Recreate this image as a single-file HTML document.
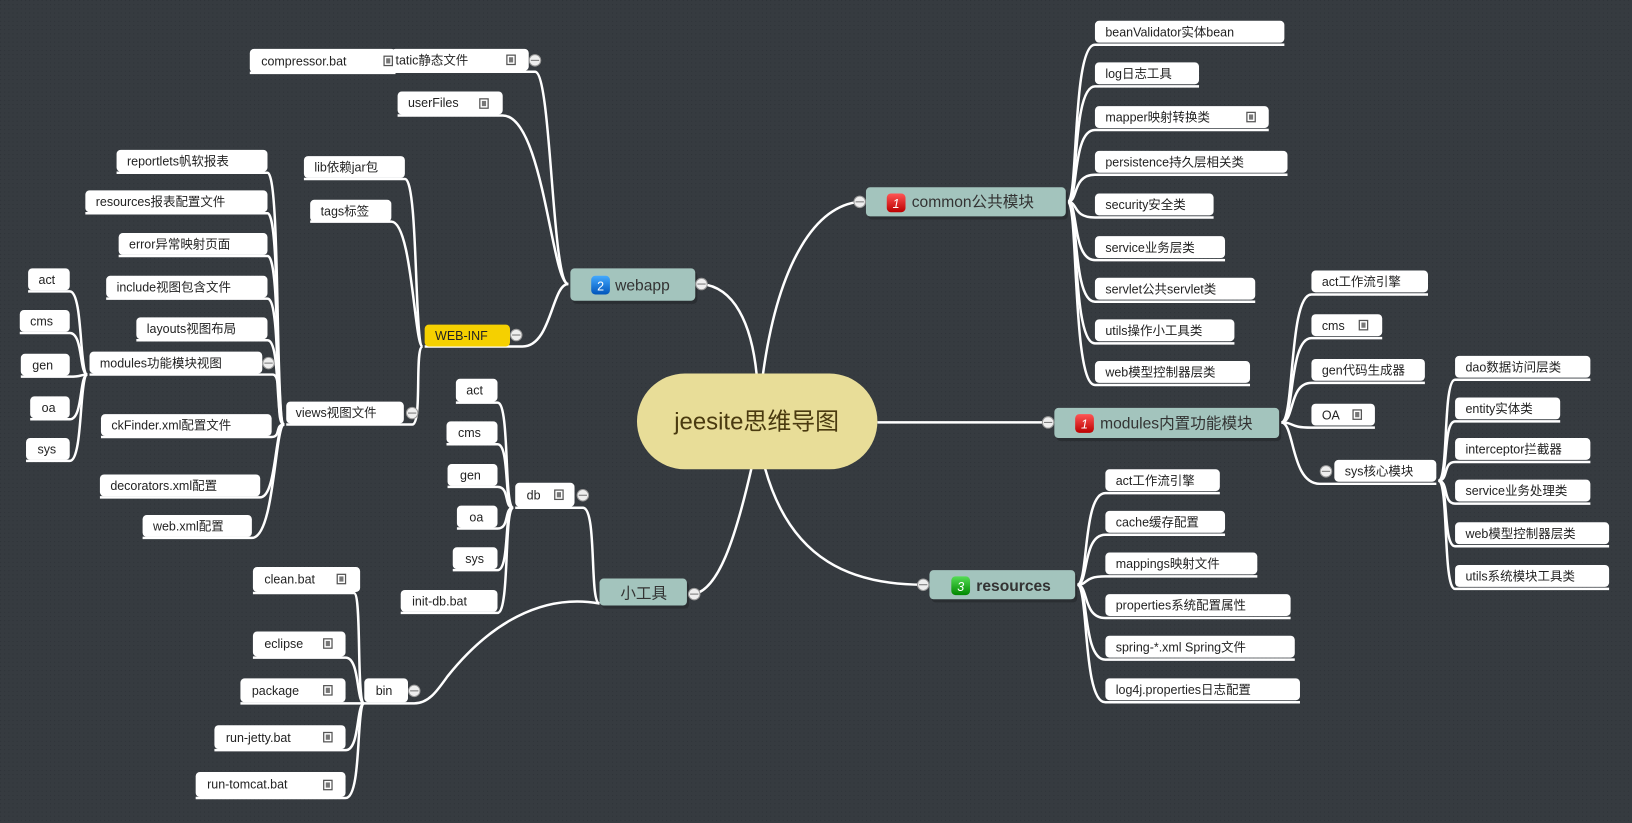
<!DOCTYPE html>
<html><head><meta charset="utf-8"><style>
html,body{margin:0;padding:0;background:#363b40;overflow:hidden}
svg{display:block}
.l{stroke:#fff;stroke-width:2.4;fill:none}
.n{fill:#fff}
.t{font-family:"Liberation Sans","Noto Sans CJK SC",sans-serif;font-size:12px;fill:#222}
.m{fill:#a3c4bd}
.mt{font-family:"Liberation Sans","Noto Sans CJK SC",sans-serif;font-size:15px;fill:#333}
.ic{fill:#fff;stroke:#555;stroke-width:1.2}
.ici{fill:#777}
.cc{fill:#eee;stroke:#999;stroke-width:1}
</style></head><body>
<svg width="1632" height="823" viewBox="0 0 1568 791" preserveAspectRatio="none" xmlns="http://www.w3.org/2000/svg">
<defs>
<pattern id="dots" width="4" height="4" patternUnits="userSpaceOnUse"><rect width="4" height="4" fill="#363b40"/><rect width="1" height="1" fill="#2e3338"/></pattern>
<linearGradient id="red" x1="0" y1="0" x2="0" y2="1"><stop offset="0" stop-color="#f55"/><stop offset="1" stop-color="#b00"/></linearGradient>
<linearGradient id="blue" x1="0" y1="0" x2="0" y2="1"><stop offset="0" stop-color="#4af"/><stop offset="1" stop-color="#05b"/></linearGradient>
<linearGradient id="green" x1="0" y1="0" x2="0" y2="1"><stop offset="0" stop-color="#5d5"/><stop offset="1" stop-color="#080"/></linearGradient>
</defs>
<rect width="1568" height="791" fill="url(#dots)"/>

<!-- main connectors -->
<path class="l" d="M727 360 C722 310 705 276 674 273"/>
<path class="l" d="M733 360 C748 250 785 197 826 194"/>
<path class="l" d="M843 406 L1007 406"/>
<path class="l" d="M735 450 C760 540 820 562 887 562"/>
<path class="l" d="M722 450 C706 520 690 566 667 571"/>

<!-- common children -->
<g class="l">
<path d="M1026 194 C1036 194 1030 43 1052 43 L1234 43"/>
<path d="M1026 194 C1036 194 1030 83 1052 83 L1152 83"/>
<path d="M1026 194 C1036 194 1030 125 1052 125 L1219 125"/>
<path d="M1026 194 C1036 194 1030 168 1052 168 L1237 168"/>
<path d="M1026 194 C1036 194 1030 209 1052 209 L1166 209"/>
<path d="M1026 194 C1036 194 1030 250 1052 250 L1177 250"/>
<path d="M1026 194 C1036 194 1030 290 1052 290 L1206 290"/>
<path d="M1026 194 C1036 194 1030 330 1052 330 L1186 330"/>
<path d="M1026 194 C1036 194 1030 370 1052 370 L1201 370"/>
<!-- modules children -->
<path d="M1231 406 C1244 406 1238 283 1260 283 L1372 283"/>
<path d="M1231 406 C1244 406 1238 325 1260 325 L1328 325"/>
<path d="M1231 406 C1244 406 1238 368 1260 368 L1369 368"/>
<path d="M1231 406 C1244 406 1238 411 1260 411 L1321 411"/>
<path d="M1231 406 C1244 406 1240 465 1268 465 L1380 465"/>
<!-- sys children -->
<path d="M1382 462 C1392 462 1386 365 1398 365 L1528 365"/>
<path d="M1382 462 C1392 462 1386 405 1398 405 L1499 405"/>
<path d="M1382 462 C1392 462 1386 444 1398 444 L1528 444"/>
<path d="M1382 462 C1392 462 1386 484 1398 484 L1528 484"/>
<path d="M1382 462 C1392 462 1386 525 1398 525 L1546 525"/>
<path d="M1382 462 C1392 462 1386 566 1398 566 L1546 566"/>
<!-- resources children -->
<path d="M1035 562 C1046 562 1040 474 1062 474 L1172 474"/>
<path d="M1035 562 C1046 562 1040 514 1062 514 L1177 514"/>
<path d="M1035 562 C1046 562 1040 554 1062 554 L1208 554"/>
<path d="M1035 562 C1046 562 1040 594 1062 594 L1240 594"/>
<path d="M1035 562 C1046 562 1040 634 1062 634 L1244 634"/>
<path d="M1035 562 C1046 562 1040 675 1062 675 L1249 675"/>
<!-- webapp children -->
<path d="M546 273 C530 273 530 69 514 69 L376 69"/>
<path d="M546 273 C530 273 522 111 483 111 L382 111"/>
<path d="M546 273 C530 273 530 333 502 333 L408 333"/>
<path d="M380 70 L240 70"/>
<!-- WEB-INF children -->
<path d="M406 333 C398 333 402 172 389 172 L292 172"/>
<path d="M406 333 C398 333 396 213 376 213 L298 213"/>
<path d="M406 333 C398 333 406 408 396 408 L275 408"/>
<!-- views children -->
<path d="M273 408 C264 408 270 166 257 166 L112 166"/>
<path d="M273 408 C264 408 270 205 257 205 L82 205"/>
<path d="M273 408 C264 408 270 246 257 246 L114 246"/>
<path d="M273 408 C264 408 270 287 257 287 L102 287"/>
<path d="M273 408 C264 408 270 327 257 327 L131 327"/>
<path d="M273 408 C264 408 272 360 262 360 L86 360"/>
<path d="M273 408 C264 408 270 420 261 420 L97 420"/>
<path d="M273 408 C264 408 266 478 250 478 L96 478"/>
<path d="M273 408 C264 408 264 517 242 517 L137 517"/>
<!-- modules(views) children -->
<path d="M84 360 C76 360 80 280 67 280 L27 280"/>
<path d="M84 360 C76 360 80 320 67 320 L19 320"/>
<path d="M84 360 C76 360 80 362 67 362 L20 362"/>
<path d="M84 360 C76 360 80 403 67 403 L29 403"/>
<path d="M84 360 C76 360 80 443 67 443 L25 443"/>
<!-- 小工具 children -->
<path d="M576 580 C566 580 574 488 560 488 L495 488"/>
<path d="M576 580 C520 570 470 600 430 650 C420 664 412 676 398 676 L350 676"/>
<!-- db children -->
<path d="M493 488 C484 488 490 387 478 387 L438 387"/>
<path d="M493 488 C484 488 490 427 478 427 L429 427"/>
<path d="M493 488 C484 488 490 468 478 468 L430 468"/>
<path d="M493 488 C484 488 490 508 478 508 L439 508"/>
<path d="M493 488 C484 488 490 548 478 548 L435 548"/>
<path d="M493 488 C484 488 490 589 478 589 L385 589"/>
<!-- bin children -->
<path d="M350 676 C342 676 348 570 340 570 L243 570"/>
<path d="M350 676 C342 676 346 632 332 632 L243 632"/>
<path d="M350 676 L231 676"/>
<path d="M350 676 C342 676 346 721 332 721 L206 721"/>
<path d="M350 676 C342 676 348 767 332 767 L188 767"/>
</g>

<!-- center -->
<rect x="612" y="359" width="231" height="92" rx="46" fill="#e8dd98"/>
<text x="727" y="413" text-anchor="middle" font-family="Liberation Sans,Noto Sans CJK SC,sans-serif" font-size="23" fill="#4a3a10">jeesite思维导图</text>

<!-- main nodes -->
<rect x="834" y="183" width="192" height="28" rx="4" fill="#2a2e32"/>
<rect class="m" x="832" y="180" width="192" height="28" rx="4"/>
<rect x="852" y="186" width="18" height="18" rx="4" fill="url(#red)"/><text x="861" y="200" text-anchor="middle" font-family="Liberation Sans,sans-serif" font-size="12" font-style="italic" fill="#fff">1</text>
<text class="mt" x="876" y="199">common公共模块</text>

<rect x="1015" y="395" width="216" height="29" rx="4" fill="#2a2e32"/>
<rect class="m" x="1013" y="392" width="216" height="29" rx="4"/>
<rect x="1033" y="398" width="18" height="18" rx="4" fill="url(#red)"/><text x="1042" y="412" text-anchor="middle" font-family="Liberation Sans,sans-serif" font-size="12" font-style="italic" fill="#fff">1</text>
<text class="mt" x="1057" y="412">modules内置功能模块</text>

<rect x="895" y="551" width="140" height="28" rx="4" fill="#2a2e32"/>
<rect class="m" x="893" y="548" width="140" height="28" rx="4"/>
<rect x="914" y="554" width="18" height="18" rx="4" fill="url(#green)"/><text x="923" y="568" text-anchor="middle" font-family="Liberation Sans,sans-serif" font-size="12" font-style="italic" fill="#fff">3</text>
<text class="mt" x="938" y="568" font-weight="bold">resources</text>

<rect x="550" y="261" width="120" height="31" rx="4" fill="#2a2e32"/>
<rect class="m" x="548" y="258" width="120" height="31" rx="4"/>
<rect x="568" y="265" width="18" height="18" rx="4" fill="url(#blue)"/><text x="577" y="279" text-anchor="middle" font-family="Liberation Sans,sans-serif" font-size="12" fill="#fff">2</text>
<text class="mt" x="591" y="279">webapp</text>

<rect x="578" y="559" width="84" height="26" rx="4" fill="#2a2e32"/>
<rect class="m" x="576" y="556" width="84" height="26" rx="4"/>
<text class="mt" x="596" y="575">小工具</text>

<!-- common child nodes -->
<g>
<rect class="n" x="1052" y="20" width="182" height="21" rx="4"/><text class="t" x="1062" y="35">beanValidator实体bean</text>
<rect class="n" x="1052" y="60" width="100" height="21" rx="4"/><text class="t" x="1062" y="75">log日志工具</text>
<rect class="n" x="1052" y="102" width="167" height="21" rx="4"/><text class="t" x="1062" y="117">mapper映射转换类</text>
<rect class="n" x="1052" y="145" width="185" height="21" rx="4"/><text class="t" x="1062" y="160">persistence持久层相关类</text>
<rect class="n" x="1052" y="186" width="114" height="21" rx="4"/><text class="t" x="1062" y="201">security安全类</text>
<rect class="n" x="1052" y="227" width="125" height="21" rx="4"/><text class="t" x="1062" y="242">service业务层类</text>
<rect class="n" x="1052" y="267" width="154" height="21" rx="4"/><text class="t" x="1062" y="282">servlet公共servlet类</text>
<rect class="n" x="1052" y="307" width="134" height="21" rx="4"/><text class="t" x="1062" y="322">utils操作小工具类</text>
<rect class="n" x="1052" y="347" width="149" height="21" rx="4"/><text class="t" x="1062" y="362">web模型控制器层类</text>

<rect class="n" x="1260" y="260" width="112" height="21" rx="4"/><text class="t" x="1270" y="275">act工作流引擎</text>
<rect class="n" x="1260" y="302" width="68" height="21" rx="4"/><text class="t" x="1270" y="317">cms</text>
<rect class="n" x="1260" y="345" width="109" height="21" rx="4"/><text class="t" x="1270" y="360">gen代码生成器</text>
<rect class="n" x="1260" y="388" width="61" height="21" rx="4"/><text class="t" x="1270" y="403">OA</text>
<rect class="n" x="1282" y="442" width="98" height="21" rx="4"/><text class="t" x="1292" y="457">sys核心模块</text>

<rect class="n" x="1398" y="342" width="130" height="21" rx="4"/><text class="t" x="1408" y="357">dao数据访问层类</text>
<rect class="n" x="1398" y="382" width="101" height="21" rx="4"/><text class="t" x="1408" y="397">entity实体类</text>
<rect class="n" x="1398" y="421" width="130" height="21" rx="4"/><text class="t" x="1408" y="436">interceptor拦截器</text>
<rect class="n" x="1398" y="461" width="130" height="21" rx="4"/><text class="t" x="1408" y="476">service业务处理类</text>
<rect class="n" x="1398" y="502" width="148" height="21" rx="4"/><text class="t" x="1408" y="517">web模型控制器层类</text>
<rect class="n" x="1398" y="543" width="148" height="21" rx="4"/><text class="t" x="1408" y="558">utils系统模块工具类</text>

<rect class="n" x="1062" y="451" width="110" height="21" rx="4"/><text class="t" x="1072" y="466">act工作流引擎</text>
<rect class="n" x="1062" y="491" width="115" height="21" rx="4"/><text class="t" x="1072" y="506">cache缓存配置</text>
<rect class="n" x="1062" y="531" width="146" height="21" rx="4"/><text class="t" x="1072" y="546">mappings映射文件</text>
<rect class="n" x="1062" y="571" width="178" height="21" rx="4"/><text class="t" x="1072" y="586">properties系统配置属性</text>
<rect class="n" x="1062" y="611" width="182" height="21" rx="4"/><text class="t" x="1072" y="626">spring-*.xml Spring文件</text>
<rect class="n" x="1062" y="652" width="187" height="21" rx="4"/><text class="t" x="1072" y="667">log4j.properties日志配置</text>

<!-- webapp side -->
<rect class="n" x="240" y="47" width="140" height="23" rx="4"/><text class="t" x="251" y="63">compressor.bat</text>
<rect class="n" x="376" y="47" width="132" height="21" rx="4"/><text class="t" x="380" y="62">tatic静态文件</text>
<rect class="n" x="382" y="88" width="101" height="22" rx="4"/><text class="t" x="392" y="103">userFiles</text>
<rect x="408" y="312" width="82" height="21" rx="4" fill="#f5d000"/><text class="t" x="418" y="327">WEB-INF</text>
<rect class="n" x="292" y="150" width="97" height="21" rx="4"/><text class="t" x="302" y="165">lib依赖jar包</text>
<rect class="n" x="298" y="192" width="78" height="21" rx="4"/><text class="t" x="308" y="207">tags标签</text>
<rect class="n" x="275" y="386" width="113" height="21" rx="4"/><text class="t" x="284" y="401">views视图文件</text>

<rect class="n" x="112" y="144" width="145" height="21" rx="4"/><text class="t" x="122" y="159">reportlets帆软报表</text>
<rect class="n" x="82" y="183" width="175" height="21" rx="4"/><text class="t" x="92" y="198">resources报表配置文件</text>
<rect class="n" x="114" y="224" width="143" height="21" rx="4"/><text class="t" x="124" y="239">error异常映射页面</text>
<rect class="n" x="102" y="265" width="155" height="21" rx="4"/><text class="t" x="112" y="280">include视图包含文件</text>
<rect class="n" x="131" y="305" width="126" height="21" rx="4"/><text class="t" x="141" y="320">layouts视图布局</text>
<rect class="n" x="86" y="338" width="166" height="21" rx="4"/><text class="t" x="96" y="353">modules功能模块视图</text>
<rect class="n" x="97" y="398" width="164" height="21" rx="4"/><text class="t" x="107" y="413">ckFinder.xml配置文件</text>
<rect class="n" x="96" y="456" width="154" height="21" rx="4"/><text class="t" x="106" y="471">decorators.xml配置</text>
<rect class="n" x="137" y="495" width="105" height="21" rx="4"/><text class="t" x="147" y="510">web.xml配置</text>

<rect class="n" x="27" y="258" width="40" height="21" rx="4"/><text class="t" x="37" y="273">act</text>
<rect class="n" x="19" y="298" width="48" height="21" rx="4"/><text class="t" x="29" y="313">cms</text>
<rect class="n" x="20" y="340" width="47" height="21" rx="4"/><text class="t" x="31" y="355">gen</text>
<rect class="n" x="29" y="381" width="38" height="21" rx="4"/><text class="t" x="40" y="396">oa</text>
<rect class="n" x="25" y="421" width="42" height="21" rx="4"/><text class="t" x="36" y="436">sys</text>

<!-- tools side -->
<rect class="n" x="495" y="464" width="57" height="23" rx="4"/><text class="t" x="506" y="480">db</text>
<rect class="n" x="350" y="652" width="42" height="23" rx="4"/><text class="t" x="361" y="668">bin</text>
<rect class="n" x="438" y="364" width="40" height="22" rx="4"/><text class="t" x="448" y="379">act</text>
<rect class="n" x="429" y="405" width="49" height="21" rx="4"/><text class="t" x="440" y="420">cms</text>
<rect class="n" x="430" y="446" width="48" height="21" rx="4"/><text class="t" x="442" y="461">gen</text>
<rect class="n" x="439" y="486" width="39" height="21" rx="4"/><text class="t" x="451" y="501">oa</text>
<rect class="n" x="435" y="526" width="43" height="21" rx="4"/><text class="t" x="447" y="541">sys</text>
<rect class="n" x="385" y="567" width="93" height="21" rx="4"/><text class="t" x="396" y="582">init-db.bat</text>
<rect class="n" x="243" y="545" width="103" height="24" rx="4"/><text class="t" x="254" y="561">clean.bat</text>
<rect class="n" x="243" y="607" width="89" height="24" rx="4"/><text class="t" x="254" y="623">eclipse</text>
<rect class="n" x="231" y="652" width="101" height="23" rx="4"/><text class="t" x="242" y="668">package</text>
<rect class="n" x="206" y="697" width="126" height="23" rx="4"/><text class="t" x="217" y="713">run-jetty.bat</text>
<rect class="n" x="188" y="742" width="144" height="24" rx="4"/><text class="t" x="199" y="758">run-tomcat.bat</text>
</g>

<!-- note icons -->
<g>
<rect class="ic" x="369" y="54" width="8" height="9"/><rect class="ici" x="371" y="56" width="4" height="5"/>
<rect class="ic" x="487" y="53" width="8" height="9"/><rect class="ici" x="489" y="55" width="4" height="5"/>
<rect class="ic" x="461" y="95" width="8" height="9"/><rect class="ici" x="463" y="97" width="4" height="5"/>
<rect class="ic" x="1198" y="108" width="8" height="9"/><rect class="ici" x="1200" y="110" width="4" height="5"/>
<rect class="ic" x="1306" y="308" width="8" height="9"/><rect class="ici" x="1308" y="310" width="4" height="5"/>
<rect class="ic" x="1300" y="394" width="8" height="9"/><rect class="ici" x="1302" y="396" width="4" height="5"/>
<rect class="ic" x="533" y="471" width="8" height="9"/><rect class="ici" x="535" y="473" width="4" height="5"/>
<rect class="ic" x="324" y="552" width="8" height="9"/><rect class="ici" x="326" y="554" width="4" height="5"/>
<rect class="ic" x="311" y="614" width="8" height="9"/><rect class="ici" x="313" y="616" width="4" height="5"/>
<rect class="ic" x="311" y="659" width="8" height="9"/><rect class="ici" x="313" y="661" width="4" height="5"/>
<rect class="ic" x="311" y="704" width="8" height="9"/><rect class="ici" x="313" y="706" width="4" height="5"/>
<rect class="ic" x="311" y="750" width="8" height="9"/><rect class="ici" x="313" y="752" width="4" height="5"/>
</g>

<!-- collapse circles -->
<g>
<circle class="cc" cx="826" cy="194" r="5.5"/><line x1="822" y1="194" x2="830" y2="194" stroke="#777"/>
<circle class="cc" cx="1007" cy="406" r="5.5"/><line x1="1003" y1="406" x2="1011" y2="406" stroke="#777"/>
<circle class="cc" cx="887" cy="562" r="5.5"/><line x1="883" y1="562" x2="891" y2="562" stroke="#777"/>
<circle class="cc" cx="674" cy="273" r="5.5"/><line x1="670" y1="273" x2="678" y2="273" stroke="#777"/>
<circle class="cc" cx="667" cy="571" r="5.5"/><line x1="663" y1="571" x2="671" y2="571" stroke="#777"/>
<circle class="cc" cx="1274" cy="453" r="5.5"/><line x1="1270" y1="453" x2="1278" y2="453" stroke="#777"/>
<circle class="cc" cx="514" cy="58" r="5.5"/><line x1="510" y1="58" x2="518" y2="58" stroke="#777"/>
<circle class="cc" cx="496" cy="322" r="5.5"/><line x1="492" y1="322" x2="500" y2="322" stroke="#777"/>
<circle class="cc" cx="396" cy="397" r="5.5"/><line x1="392" y1="397" x2="400" y2="397" stroke="#777"/>
<circle class="cc" cx="258" cy="349" r="5.5"/><line x1="254" y1="349" x2="262" y2="349" stroke="#777"/>
<circle class="cc" cx="560" cy="476" r="5.5"/><line x1="556" y1="476" x2="564" y2="476" stroke="#777"/>
<circle class="cc" cx="398" cy="664" r="5.5"/><line x1="394" y1="664" x2="402" y2="664" stroke="#777"/>
</g>
</svg>
</body></html>
